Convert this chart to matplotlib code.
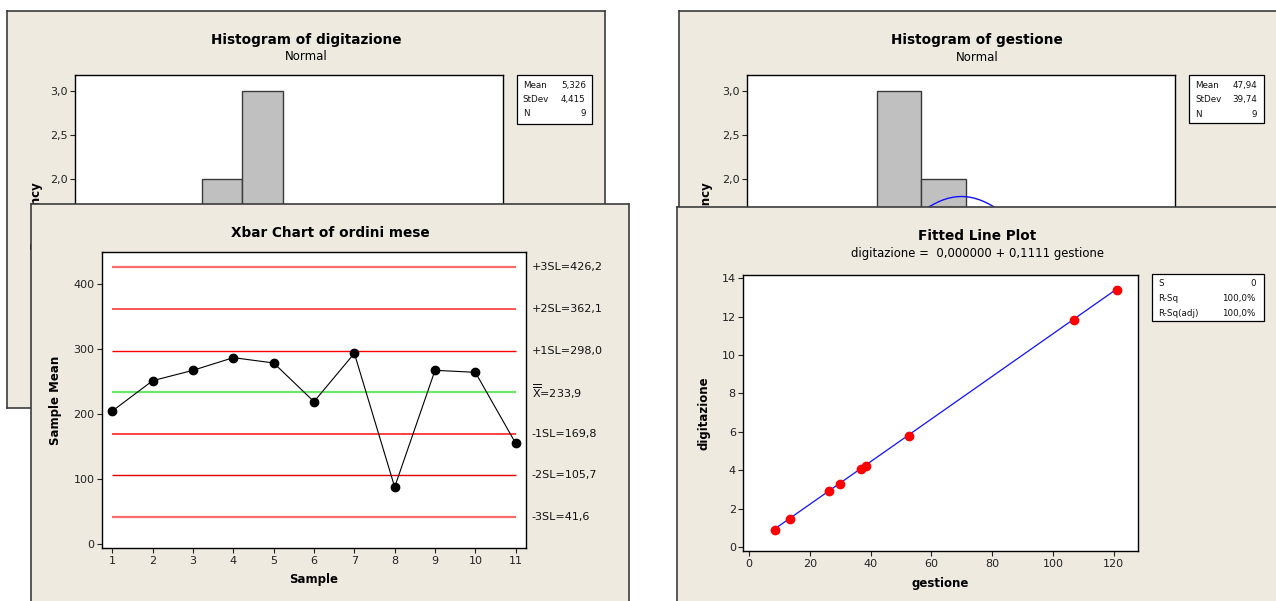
"""Quattro finestre Minitab sovrapposte: due istogrammi, carta Xbar e fitted line plot."""
import numpy as np
import matplotlib
matplotlib.use("Agg")
import matplotlib.pyplot as plt
from matplotlib.patches import Rectangle
from matplotlib.ticker import FuncFormatter

plt.rcParams["font.family"] = ["DejaVu Sans"]

# ===== Dati =====
gestione = [8.6, 13.4, 26.4, 29.9, 36.7, 38.5, 52.6, 107.0, 121.0]
digitazione = [0.89, 1.44, 2.92, 3.28, 4.05, 4.22, 5.78, 11.83, 13.39]

dig_mean, dig_sd, dig_n = 5.326, 4.415, 9
ges_mean, ges_sd, ges_n = 47.94, 39.74, 9

campioni = list(range(1, 12))
medie_campione = [204.9, 251.6, 267.6, 287.1, 278.9, 219.3, 293.8, 87.8, 267.6, 264.5, 155.1]

limiti_nomi = ["+3SL=426,2", "+2SL=362,1", "+1SL=298,0", r"$\overline{\overline{\mathrm{X}}}$=233,9",
               "-1SL=169,8", "-2SL=105,7", "-3SL=41,6"]
limiti_val = [426.2, 362.1, 298.0, 233.9, 169.8, 105.7, 41.6]

fit_intercetta, fit_pendenza = 0.0, 0.1111

# ===== Stile =====
W, H = 1276, 601
BEIGE = "#EEEAE0"
BORDO = "#3c3c3c"
BARRA = "#C0C0C0"

fig = plt.figure(figsize=(W / 100, H / 100), dpi=100)
fig.patch.set_facecolor("white")


def px_axes(x0, y0, x1, y1, z):
    ax = fig.add_axes([x0 / W, 1 - y1 / H, (x1 - x0) / W, (y1 - y0) / H])
    ax.set_zorder(z)
    return ax


def finestra(x0, y0, x1, y1, z):
    ax = px_axes(x0, y0, x1, y1, z)
    ax.set_xlim(x0, x1)
    ax.set_ylim(y1, y0)
    ax.set_facecolor(BEIGE)
    ax.set_xticks([])
    ax.set_yticks([])
    for s in ax.spines.values():
        s.set_color(BORDO)
        s.set_linewidth(1.2)
    return ax


def stile_plot(ax):
    for s in ax.spines.values():
        s.set_color("black")
        s.set_linewidth(1.0)
    ax.tick_params(direction="out", length=3.5, width=0.8, labelsize=8,
                   pad=2, colors="#222222", top=False, right=False)


def box_stat(win, x0, y0, x1, y1, righe, xl, xr, ys):
    win.add_patch(Rectangle((x0, y0), x1 - x0, y1 - y0, facecolor="white",
                            edgecolor="black", linewidth=0.9))
    for (k, v), y in zip(righe, ys):
        win.text(xl, y, k, fontsize=6.3, ha="left", va="center", color="#111111")
        win.text(xr, y, v, fontsize=6.3, ha="right", va="center", color="#111111")


virgola1 = FuncFormatter(lambda v, p: f"{v:.1f}".replace(".", ","))


def istogramma(win, ax, dati, bins, media, sd, n, bw, titolo, cx, box, xl, xr, ylab_x):
    ax.hist(dati, bins=bins, color=BARRA, edgecolor="#3a3a3a", linewidth=1.0)
    xs = np.linspace(media - 4 * sd, media + 4 * sd, 300)
    ys = n * bw * np.exp(-0.5 * ((xs - media) / sd) ** 2) / (sd * np.sqrt(2 * np.pi))
    ax.plot(xs, ys, color="#1010ff", linewidth=1.0)
    ax.set_ylim(-0.1, 3.174)
    # la parte bassa dell'asse è coperta dalla finestra sottostante
    ax.set_yticks([2.0, 2.5, 3.0])
    ax.set_xticks([])
    ax.yaxis.set_major_formatter(virgola1)
    stile_plot(ax)
    win.text(cx, 40, titolo, fontsize=9.8, fontweight="bold", ha="center", va="center")
    win.text(cx, 57, "Normal", fontsize=8.5, ha="center", va="center")
    win.text(ylab_x, 215, "Frequency", fontsize=8.5, fontweight="bold",
             rotation=90, ha="center", va="center")
    box_stat(win, *box, [("Mean", f"{media:.4g}".replace(".", ",")),
                         ("StDev", f"{sd:.4g}".replace(".", ",")),
                         ("N", str(n))], xl, xr, [85.3, 99.3, 114.0])


# ----- Istogramma digitazione -----
win1 = finestra(6.7, 10.7, 605, 408, 1)
ax_h1 = px_axes(75, 75.3, 503, 365.6, 2)
ax_h1.set_xlim(-5.27, 15.87)
istogramma(win1, ax_h1, digitazione, np.arange(-1, 17, 2), dig_mean, dig_sd, dig_n, 2,
           "Histogram of digitazione", 306, (516.7, 75.3, 592, 124), 522.7, 585.7, 35)

# ----- Istogramma gestione -----
win2 = finestra(678.7, 10.7, 1290, 420, 1)
ax_h2 = px_axes(747.3, 75.3, 1175, 365.6, 2)
ax_h2.set_xlim(-47.9, 143.5)
istogramma(win2, ax_h2, gestione, np.arange(-10, 150, 20), ges_mean, ges_sd, ges_n, 20,
           "Histogram of gestione", 977, (1188.7, 75.3, 1263.7, 123.3), 1195, 1257.3, 705)

# ----- Carta Xbar -----
win3 = finestra(31, 204, 629, 620, 3)
ax_xb = px_axes(102.3, 252.3, 525.7, 548.3, 4)
ax_xb.set_xlim(0.752, 11.248)
ax_xb.set_ylim(-6.6, 449.4)
colori_lim = ["#ff6b6b", "#ff4a4a", "#ff0000", "#6be86b", "#ff2020", "#e00000", "#ff6b6b"]
spessori = [1.6, 1.3, 1.0, 1.6, 1.2, 1.0, 1.6]
for v, c, lw, nome in zip(limiti_val, colori_lim, spessori, limiti_nomi):
    ax_xb.hlines(v, campioni[0], campioni[-1], colors=c, linewidth=lw)
    ax_xb.text(1.0142, v, nome, transform=ax_xb.get_yaxis_transform(), fontsize=8,
               ha="left", va="center", color="#111111", clip_on=False)
ax_xb.plot(campioni, medie_campione, color="black", linewidth=0.8, marker="o",
           markersize=6, clip_on=False, zorder=5)
ax_xb.set_xticks(campioni)
ax_xb.set_yticks(range(0, 401, 100))
stile_plot(ax_xb)
win3.text(330, 233.3, "Xbar Chart of ordini mese", fontsize=9.8, fontweight="bold",
          ha="center", va="center")
win3.text(314, 580, "Sample", fontsize=8.5, fontweight="bold", ha="center", va="center")
win3.text(55, 400, "Sample Mean", fontsize=8.5, fontweight="bold", rotation=90,
          ha="center", va="center")

# ----- Fitted Line Plot -----
win4 = finestra(677.3, 207.3, 1290, 620, 3)
ax_fit = px_axes(743.4, 274.7, 1137.7, 551, 4)
ax_fit.set_xlim(-1.84, 127.9)
ax_fit.set_ylim(-0.21, 14.19)
xr = np.array([min(gestione), max(gestione)])
ax_fit.plot(xr, fit_intercetta + fit_pendenza * xr, color="#1010ff", linewidth=0.9)
ax_fit.plot(gestione, digitazione, linestyle="none", marker="o", markersize=6,
            color="#ff0000", zorder=5)
ax_fit.set_xticks(range(0, 121, 20))
ax_fit.set_yticks(range(0, 15, 2))
stile_plot(ax_fit)
win4.text(977, 236, "Fitted Line Plot", fontsize=9.8, fontweight="bold", ha="center", va="center")
win4.text(977, 254, "digitazione =  0,000000 + 0,1111 gestione", fontsize=8.4,
          ha="center", va="center")
win4.text(940, 583.3, "gestione", fontsize=8.5, fontweight="bold", ha="center", va="center")
win4.text(704, 413, "digitazione", fontsize=8.5, fontweight="bold", rotation=90,
          ha="center", va="center")
box_stat(win4, 1152.3, 274, 1263.7, 321,
         [("S", "0"), ("R-Sq", "100,0%"), ("R-Sq(adj)", "100,0%")],
         1158.3, 1255.7, [284, 298.7, 313.3])

fig.savefig("out.png", dpi=100)
